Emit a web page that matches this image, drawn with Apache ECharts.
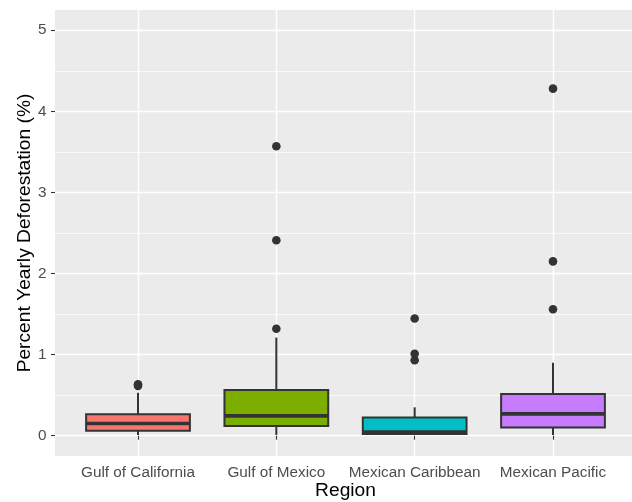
<!DOCTYPE html>
<html>
<head>
<meta charset="utf-8">
<title>Percent Yearly Deforestation by Region</title>
<script src="https://cdn.jsdelivr.net/npm/echarts@6/dist/echarts.min.js"></script>
<style>
  html, body { margin: 0; padding: 0; background: #ffffff; }
  #chart { width: 632px; height: 502px; }
</style>
</head>
<body>
<div id="chart"></div>
<script>
// Regions on the x axis
const categories = ['Gulf of California', 'Gulf of Mexico', 'Mexican Caribbean', 'Mexican Pacific'];

// Box statistics per region (percent per year)
const whiskerLow  = [0.01, 0.01, 0.01, 0.01];
const quartile1   = [0.06, 0.12, 0.02, 0.10];
const medians     = [0.15, 0.245, 0.045, 0.27];
const quartile3   = [0.265, 0.565, 0.225, 0.515];
const whiskerHigh = [0.53, 1.21, 0.35, 0.90];

// Points beyond the whiskers
const outliers = [
  [0.615, 0.635],
  [1.32, 2.41, 3.57],
  [0.93, 1.01, 1.445],
  [1.56, 2.15, 4.28]
];

// Axis ticks
const yTicks = [0, 1, 2, 3, 4, 5];
const yMinorTicks = [0.5, 1.5, 2.5, 3.5, 4.5];

// Fill colours for the regions
const fills = ['#F8766D', '#7CAE00', '#00BFC4', '#C77CFF'];

const FONT = "'Liberation Sans', Arial, Helvetica, sans-serif";
const INK = '#333333';
const BOX_WIDTH = 0.75;
const xPositions = categories.map((c, i) => i + 1);

const boxData = categories.map((c, i) => [
  xPositions[i], whiskerLow[i], quartile1[i], medians[i], quartile3[i], whiskerHigh[i]
]);

const outlierData = [];
outliers.forEach((vals, i) => vals.forEach(v => outlierData.push([xPositions[i], v])));

const gridLines = []
  .concat(yMinorTicks.map(v => ({ yAxis: v, lineStyle: { width: 0.7 } })))
  .concat(yTicks.map(v => ({ yAxis: v, lineStyle: { width: 1.4 } })))
  .concat(xPositions.map(v => ({ xAxis: v, lineStyle: { width: 1.4 } })));

const chart = echarts.init(document.getElementById('chart'), null, { renderer: 'canvas' });

chart.setOption({
  animation: false,
  backgroundColor: '#ffffff',
  textStyle: { fontFamily: FONT },
  grid: {
    left: 55, right: -4, top: 10, bottom: 46,
    outerBoundsMode: 'none',
    containLabel: false,
    show: true, backgroundColor: '#EBEBEB', borderWidth: 0
  },
  xAxis: {
    type: 'value',
    min: 0.4, max: 4.6,
    name: 'Region',
    nameLocation: 'middle',
    nameGap: 25,
    nameMoveOverlap: false,
    nameTextStyle: { color: '#000000', fontSize: 19.2, fontFamily: FONT },
    axisLine: { show: false },
    splitLine: { show: false },
    axisTick: { show: true, customValues: xPositions, length: 4, lineStyle: { color: INK, width: 1.1 } },
    axisLabel: {
      customValues: xPositions,
      formatter: v => categories[Math.round(v) - 1] || '',
      color: '#4D4D4D', fontSize: 15.3, fontFamily: FONT, margin: 9
    }
  },
  yAxis: {
    type: 'value',
    min: -0.25, max: 5.25,
    name: 'Percent Yearly Deforestation (%)',
    nameLocation: 'middle',
    nameRotate: 90,
    nameGap: 21,
    nameMoveOverlap: false,
    nameTextStyle: { color: '#000000', fontSize: 19.2, fontFamily: FONT },
    axisLine: { show: false },
    splitLine: { show: false },
    axisTick: { show: true, customValues: yTicks, length: 4, lineStyle: { color: INK, width: 1.1 } },
    axisLabel: {
      customValues: yTicks,
      color: '#4D4D4D', fontSize: 15.3, fontFamily: FONT, margin: 8.5
    }
  },
  series: [
    {
      // panel grid lines, kept beneath the boxes
      type: 'line',
      data: [],
      z: 0,
      silent: true,
      markLine: {
        z: 0,
        silent: true,
        symbol: ['none', 'none'],
        label: { show: false },
        lineStyle: { color: '#ffffff', type: 'solid' },
        emphasis: { disabled: true },
        data: gridLines
      }
    },
    {
      type: 'custom',
      z: 2,
      data: boxData,
      encode: { x: 0, y: [1, 2, 3, 4, 5] },
      renderItem: function (params, api) {
        const x = api.value(0);
        const lo = api.coord([x, api.value(1)]);
        const q1 = api.coord([x, api.value(2)]);
        const med = api.coord([x, api.value(3)]);
        const q3 = api.coord([x, api.value(4)]);
        const hi = api.coord([x, api.value(5)]);
        const half = api.size([BOX_WIDTH, 0])[0] / 2;
        const cx = q1[0];
        return {
          type: 'group',
          children: [
            { type: 'line', shape: { x1: cx, y1: lo[1], x2: cx, y2: q1[1] },
              style: { stroke: INK, lineWidth: 2 } },
            { type: 'line', shape: { x1: cx, y1: q3[1], x2: cx, y2: hi[1] },
              style: { stroke: INK, lineWidth: 2 } },
            { type: 'rect', shape: { x: cx - half, y: q3[1], width: 2 * half, height: q1[1] - q3[1] },
              style: { fill: fills[params.dataIndex], stroke: INK, lineWidth: 2 } },
            { type: 'line', shape: { x1: cx - half, y1: med[1], x2: cx + half, y2: med[1] },
              style: { stroke: INK, lineWidth: 3.6 } }
          ]
        };
      }
    },
    {
      type: 'scatter',
      z: 3,
      data: outlierData,
      symbol: 'circle',
      symbolSize: 8.6,
      itemStyle: { color: INK, opacity: 1 }
    }
  ]
});
</script>
</body>
</html>
